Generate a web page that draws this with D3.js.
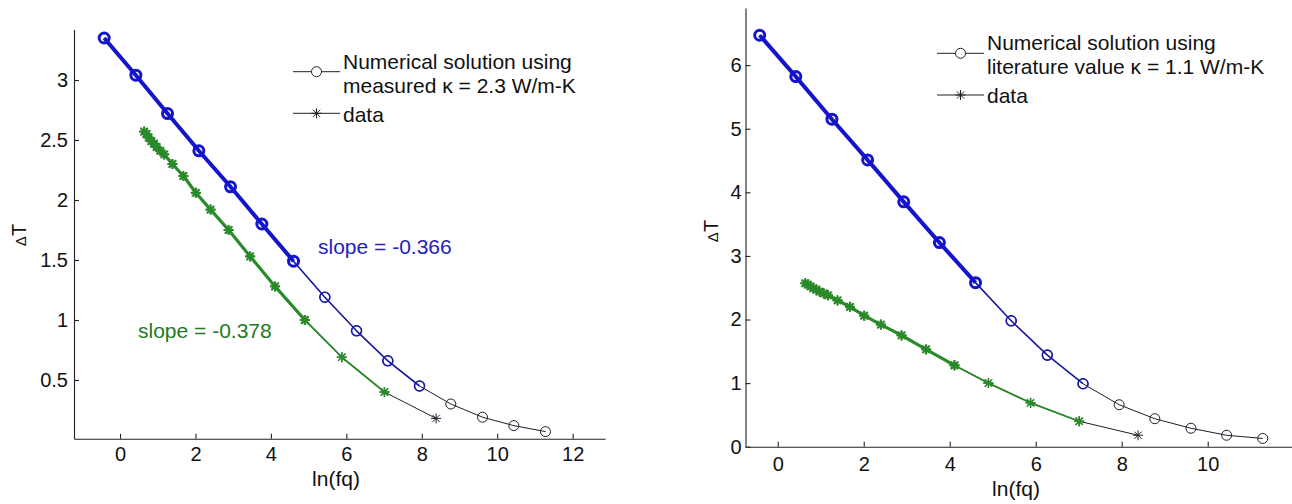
<!DOCTYPE html>
<html>
<head>
<meta charset="utf-8">
<script src="https://cdn.jsdelivr.net/npm/d3@7"></script>
<style>
  body { margin: 0; background: #fff; }
  text { font-family: "Liberation Sans", Arial, sans-serif; }
</style>
</head>
<body>
<div id="chart"></div>
<script>
// ln(fq) of the numerical solution points
var lnfNum = [-0.42, 0.42, 1.26, 2.09, 2.93, 3.76, 4.60, 5.43, 6.27, 7.10, 7.94, 8.77, 9.61, 10.44, 11.28];
// numerical solution, measured kappa = 2.3 W/m-K
var dTmeasured = [3.35, 3.04, 2.72, 2.41, 2.11, 1.80, 1.49, 1.19, 0.91, 0.66, 0.45, 0.30, 0.19, 0.12, 0.07];
// numerical solution, literature kappa = 1.1 W/m-K
var dTliterature = [6.47, 5.82, 5.15, 4.51, 3.85, 3.21, 2.58, 1.98, 1.44, 0.99, 0.66, 0.44, 0.29, 0.18, 0.13];

// measured data
var lnfData = [0.64, 0.70, 0.76, 0.83, 0.90, 0.97, 1.07, 1.17, 1.39, 1.68, 2.01, 2.40, 2.88, 3.45, 4.11, 4.90, 5.88, 7.01, 8.38];
var dTdata = [2.57, 2.55, 2.52, 2.49, 2.47, 2.44, 2.41, 2.38, 2.30, 2.20, 2.06, 1.92, 1.75, 1.53, 1.28, 1.00, 0.69, 0.40, 0.18];

var leftLegend = ["Numerical solution using", "measured \u03ba = 2.3 W/m-K"];
var rightLegend = ["Numerical solution using", "literature value \u03ba = 1.1 W/m-K"];
var leftSlopes = ["slope = -0.366", "slope = -0.378"];

var leftXTicks = [0, 2, 4, 6, 8, 10, 12];
var leftYTicks = [0.5, 1, 1.5, 2, 2.5, 3];
var rightXTicks = [0, 2, 4, 6, 8, 10];
var rightYTicks = [0, 1, 2, 3, 4, 5, 6];

var BLUE = "#1414cc", BLUE_THIN = "#1c1ca8", GREEN = "#2a8a2a", DARK = "#1e1e2a";

var svg = d3.select("#chart").append("svg")
    .attr("width", 1292)
    .attr("height", 504);

var starPath = "M-5,0H5M0,-5V5M-3.6,-3.6L3.6,3.6M-3.6,3.6L3.6,-3.6";

function pts(xs, ys) {
  return xs.map(function(d, i) { return [d, ys[i]]; });
}

function drawPanel(p) {
  var x = d3.scaleLinear().domain(p.xDomain).range(p.xRange);
  var y = d3.scaleLinear().domain(p.yDomain).range(p.yRange);
  var g = svg.append("g");

  // axes, MATLAB style: ticks point inward
  var xa = g.append("g")
      .attr("transform", "translate(0," + p.yRange[0] + ")")
      .call(d3.axisBottom(x).tickValues(p.xTicks).tickSizeInner(-5).tickSizeOuter(0)
              .tickPadding(p.xPad).tickFormat(function(d) { return String(d); }));
  var ya = g.append("g")
      .attr("transform", "translate(" + p.xRange[0] + ",0)")
      .call(d3.axisLeft(y).tickValues(p.yTicks).tickSizeInner(-5).tickSizeOuter(0)
              .tickPadding(p.yPad).tickFormat(function(d) { return String(d); }));
  [xa, ya].forEach(function(a) {
    a.attr("font-size", 20).attr("font-family", null);
    a.selectAll("path, line").attr("stroke", "#222").attr("stroke-width", 1.1);
    a.selectAll("text").attr("fill", "#111");
  });

  // axis labels
  g.append("text")
      .attr("transform", "translate(" + p.yLab[0] + "," + p.yLab[1] + ") rotate(-90)")
      .attr("text-anchor", "middle")
      .attr("font-size", 20)
      .attr("fill", "#111")
      .html('<tspan font-size="15">\u0394</tspan>T');
  g.append("text")
      .attr("x", p.xLab[0]).attr("y", p.xLab[1])
      .attr("text-anchor", "middle")
      .attr("font-size", 21)
      .attr("fill", "#111")
      .text("ln(fq)");

  var line = d3.line().x(function(d) { return x(d[0]); }).y(function(d) { return y(d[1]); });
  var num = pts(lnfNum, p.num);
  var dat = pts(lnfData, dTdata);

  function series(data, color, lw, mw, marker) {
    g.append("path")
        .datum(data)
        .attr("fill", "none")
        .attr("stroke", color)
        .attr("stroke-width", lw)
        .attr("stroke-linejoin", "round")
        .attr("d", line);
    var m = g.append("g").selectAll("g").data(data).enter().append("g")
        .attr("transform", function(d) { return "translate(" + x(d[0]) + "," + y(d[1]) + ")"; });
    if (marker === "o") {
      m.append("circle").attr("r", 5).attr("fill", "none")
          .attr("stroke", color).attr("stroke-width", mw);
    } else {
      m.append("path").attr("d", starPath).attr("fill", "none")
          .attr("stroke", color).attr("stroke-width", mw);
    }
  }

  // thin dark series over the whole range (the legend entries)
  series(num, DARK, 1, 1, "o");
  series(dat, DARK, 1, 1, "*");
  // coloured overlays
  series(num.slice(p.blueThick, p.blueEnd + 1), BLUE_THIN, 1.6, 1.6, "o");
  series(num.slice(0, p.blueThick + 1), BLUE, 4, 3, "o");
  series(dat.slice(p.greenThick, p.greenEnd + 1), GREEN, 1.8, 1.6, "*");
  series(dat.slice(0, p.greenThick + 1), GREEN, 3.2, 2.2, "*");

  // legend
  var lg = g.append("g");
  p.legend.forEach(function(t, i) {
    lg.append("text").attr("x", p.legX).attr("y", p.legY[i])
        .attr("font-size", 21).attr("fill", "#111").text(t);
  });
  lg.append("text").attr("x", p.legX).attr("y", p.legY[2])
      .attr("font-size", 21).attr("fill", "#111").text("data");
  var sx0 = p.legX - 50, sx1 = p.legX - 3;
  lg.append("line").attr("x1", sx0).attr("x2", sx1).attr("y1", p.legMark[0]).attr("y2", p.legMark[0])
      .attr("stroke", "#222").attr("stroke-width", 1);
  lg.append("circle").attr("cx", (sx0 + sx1) / 2).attr("cy", p.legMark[0]).attr("r", 5)
      .attr("fill", "#fff").attr("stroke", "#222").attr("stroke-width", 1);
  lg.append("line").attr("x1", sx0).attr("x2", sx1).attr("y1", p.legMark[1]).attr("y2", p.legMark[1])
      .attr("stroke", "#222").attr("stroke-width", 1);
  lg.append("path").attr("d", starPath)
      .attr("transform", "translate(" + ((sx0 + sx1) / 2) + "," + p.legMark[1] + ")")
      .attr("fill", "none").attr("stroke", "#222").attr("stroke-width", 1);

  // slope annotations
  (p.slopes || []).forEach(function(s) {
    g.append("text").attr("x", s.x).attr("y", s.y)
        .attr("font-size", 21).attr("fill", s.color).text(s.text);
  });
}

drawPanel({
  xDomain: [-1.22, 12.86], xRange: [74, 605.1],
  yDomain: [0.01, 3.42], yRange: [438.8, 29.6],
  xTicks: leftXTicks, yTicks: leftYTicks, xPad: 8, yPad: 6,
  yLab: [26, 235], xLab: [336, 486],
  num: dTmeasured,
  blueThick: 6, blueEnd: 10, greenThick: 15, greenEnd: 17,
  legend: leftLegend, legX: 343, legY: [68.5, 93.3, 121.7], legMark: [71.7, 113.3],
  slopes: [
    { text: leftSlopes[0], x: 318, y: 254, color: "#2222b8" },
    { text: leftSlopes[1], x: 138, y: 338, color: "#237a23" }
  ]
});

drawPanel({
  xDomain: [-0.75, 12], xRange: [745.5, 1293.7],
  yDomain: [0, 6.9], yRange: [446.7, 7.9],
  xTicks: rightXTicks, yTicks: rightYTicks, xPad: 10, yPad: 4,
  yLab: [718, 231], xLab: [1016, 496],
  num: dTliterature,
  blueThick: 6, blueEnd: 9, greenThick: 14, greenEnd: 17,
  legend: rightLegend, legX: 987, legY: [50, 74, 103.3], legMark: [53.3, 95]
});
</script>
</body>
</html>
